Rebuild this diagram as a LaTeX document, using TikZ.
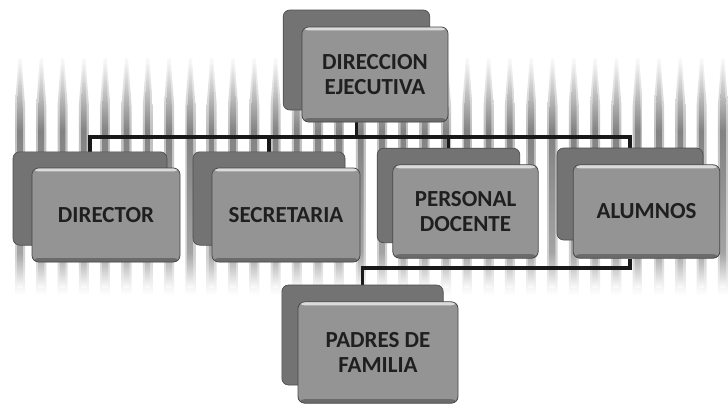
\documentclass[tikz,border=0pt]{standalone}
\usepackage{fontspec}
\setmainfont{Carlito}
\pgfdeclarelayer{stripes}
\pgfdeclarelayer{lines}
\pgfsetlayers{stripes,lines,main}
\pgfdeclareverticalshading{stripeshade}{100bp}{color(0bp)=(white); color(25bp)=(white); color(33bp)=(black!40); color(60bp)=(black!55); color(75bp)=(black!5); color(100bp)=(white)}
\tikzset{
  backbox/.style={rectangle, rounded corners=5pt, fill=black!55, draw=black!70, line width=0.5pt},
  frontbox/.style={rectangle, rounded corners=5pt, fill=black!42, draw=black!72, line width=0.6pt,
    align=center, text=black!88, font=\fontsize{17.25}{18.75}\selectfont\bfseries,
    path picture={
      \fill[black!14] ([yshift=-2.6pt]path picture bounding box.north west) rectangle (path picture bounding box.north east);
      \fill[black!58] (path picture bounding box.south west) rectangle ([yshift=3pt]path picture bounding box.south east);
    }},
  conn/.style={draw=black!90, line width=2.4pt},
  stripeouter/.style={shading=stripeshade, opacity=0.45},
  stripeinner/.style={shading=stripeshade, opacity=0.8},
}
\begin{document}
\begin{tikzpicture}[x=0.75pt,y=-0.75pt]
\useasboundingbox (0,0) rectangle (728,404);
% stripes
\begin{pgfonlayer}{stripes}
\fill[white] (0,0) rectangle (728,404);
\foreach \k in {0,...,33}{
  \pgfmathsetmacro{\xs}{20+21.3*\k}
  \shade[stripeouter] (\xs-1.5,58) -- (\xs+1.5,58) -- (\xs+5,105) -- (\xs+5,295) -- (\xs-5,295) -- (\xs-5,105) -- cycle;
  \shade[stripeinner] (\xs-0.8,64) -- (\xs+0.8,64) -- (\xs+2.8,108) -- (\xs+2.8,288) -- (\xs-2.8,288) -- (\xs-2.8,108) -- cycle;
}
\end{pgfonlayer}
% back boxes
\node[backbox, minimum width=110pt, minimum height=75pt] (topb) at (356.5,60) {};
\node[backbox, minimum width=115.5pt, minimum height=70pt] (dirb) at (90,198.5) {};
\node[backbox, minimum width=114pt, minimum height=70pt] (secb) at (269,198.5) {};
\node[backbox, minimum width=107pt, minimum height=71pt] (perb) at (448.5,195.5) {};
\node[backbox, minimum width=109.5pt, minimum height=69pt] (alub) at (630,194) {};
\node[backbox, minimum width=121pt, minimum height=75pt] (padb) at (362.5,335) {};
% front boxes
\node[frontbox, minimum width=109.5pt, minimum height=71.25pt] (top) at (375,74.5) {DIRECCION\\EJECUTIVA};
\node[frontbox, minimum width=111pt, minimum height=70.5pt] (dir) at (106,215) {DIRECTOR};
\node[frontbox, minimum width=111pt, minimum height=70.5pt] (sec) at (286,215) {SECRETARIA};
\node[frontbox, minimum width=109pt, minimum height=70pt] (per) at (465.5,211.5) {PERSONAL\\DOCENTE};
\node[frontbox, minimum width=110pt, minimum height=70pt] (alu) at (646.5,211.5) {ALUMNOS};
\node[frontbox, minimum width=120pt, minimum height=76pt] (pad) at (378,352.5) {PADRES DE\\FAMILIA};
% connectors
\coordinate (bus) at (0,137);
\coordinate (bus2) at (0,268);
\begin{pgfonlayer}{lines}
\draw[conn] (dirb.north) -- (dirb.north |- bus) -- (alub.north |- bus) -- (alub.north);
\draw[conn] (secb.north) -- (secb.north |- bus);
\draw[conn] (perb.north) -- (perb.north |- bus);
\draw[conn] (topb.south) -- (topb.south |- bus);
\draw[conn] (alub.center |- alu.south) -- (alub.center |- bus2) -- (padb.north |- bus2) -- (padb.north);
\end{pgfonlayer}
\end{tikzpicture}
\end{document}
